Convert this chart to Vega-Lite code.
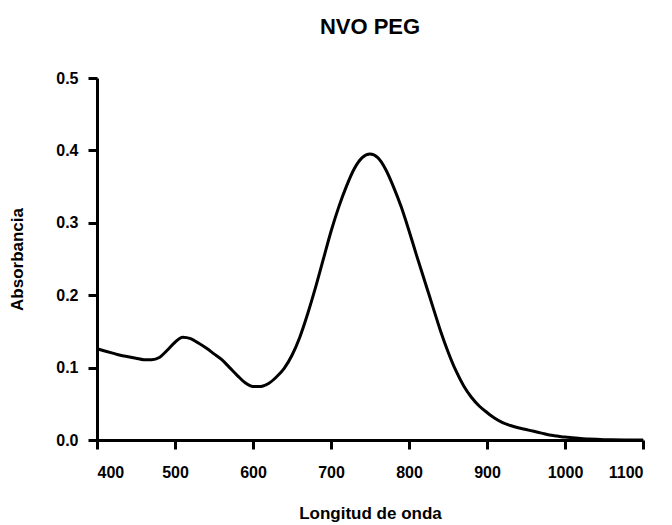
{
  "$schema": "https://vega.github.io/schema/vega-lite/v6.json",
  "width": 546,
  "height": 362,
  "autosize": "none",
  "padding": {"left": 97, "top": 78, "right": 29, "bottom": 85},
  "background": "white",
  "title": {
    "text": "NVO PEG",
    "font": "Liberation Sans",
    "fontSize": 22,
    "fontWeight": "bold",
    "color": "black",
    "anchor": "middle",
    "offset": 31
  },
  "data": {
    "values": [
      {"wl": 400, "abs": 0.126},
      {"wl": 410, "abs": 0.123},
      {"wl": 420, "abs": 0.120},
      {"wl": 430, "abs": 0.117},
      {"wl": 440, "abs": 0.115},
      {"wl": 450, "abs": 0.113},
      {"wl": 460, "abs": 0.111},
      {"wl": 470, "abs": 0.111},
      {"wl": 480, "abs": 0.114},
      {"wl": 490, "abs": 0.124},
      {"wl": 500, "abs": 0.135},
      {"wl": 510, "abs": 0.142},
      {"wl": 520, "abs": 0.140},
      {"wl": 530, "abs": 0.134},
      {"wl": 540, "abs": 0.127},
      {"wl": 550, "abs": 0.119},
      {"wl": 560, "abs": 0.111},
      {"wl": 570, "abs": 0.100},
      {"wl": 580, "abs": 0.089},
      {"wl": 590, "abs": 0.079},
      {"wl": 600, "abs": 0.074},
      {"wl": 610, "abs": 0.074},
      {"wl": 620, "abs": 0.078},
      {"wl": 630, "abs": 0.087},
      {"wl": 640, "abs": 0.099},
      {"wl": 650, "abs": 0.117},
      {"wl": 660, "abs": 0.142},
      {"wl": 670, "abs": 0.174},
      {"wl": 680, "abs": 0.210},
      {"wl": 690, "abs": 0.249},
      {"wl": 700, "abs": 0.288},
      {"wl": 710, "abs": 0.322},
      {"wl": 720, "abs": 0.351},
      {"wl": 730, "abs": 0.375},
      {"wl": 740, "abs": 0.390},
      {"wl": 750, "abs": 0.395},
      {"wl": 760, "abs": 0.390},
      {"wl": 770, "abs": 0.374},
      {"wl": 780, "abs": 0.350},
      {"wl": 790, "abs": 0.322},
      {"wl": 800, "abs": 0.289},
      {"wl": 810, "abs": 0.254},
      {"wl": 820, "abs": 0.220},
      {"wl": 830, "abs": 0.186},
      {"wl": 840, "abs": 0.152},
      {"wl": 850, "abs": 0.122},
      {"wl": 860, "abs": 0.096},
      {"wl": 870, "abs": 0.075},
      {"wl": 880, "abs": 0.059},
      {"wl": 890, "abs": 0.047},
      {"wl": 900, "abs": 0.038},
      {"wl": 910, "abs": 0.030},
      {"wl": 920, "abs": 0.024},
      {"wl": 930, "abs": 0.020},
      {"wl": 940, "abs": 0.017},
      {"wl": 950, "abs": 0.0145},
      {"wl": 960, "abs": 0.012},
      {"wl": 970, "abs": 0.0095},
      {"wl": 980, "abs": 0.007},
      {"wl": 990, "abs": 0.0055},
      {"wl": 1000, "abs": 0.004},
      {"wl": 1010, "abs": 0.003},
      {"wl": 1020, "abs": 0.002},
      {"wl": 1030, "abs": 0.0014},
      {"wl": 1040, "abs": 0.0009},
      {"wl": 1050, "abs": 0.0005},
      {"wl": 1060, "abs": 0.0003},
      {"wl": 1080, "abs": 0.0001},
      {"wl": 1100, "abs": 0.0}
    ]
  },
  "mark": {"type": "line", "color": "black", "strokeWidth": 3, "interpolate": "monotone"},
  "encoding": {
    "x": {
      "field": "wl",
      "type": "quantitative",
      "scale": {"domain": [400, 1100], "nice": false, "zero": false},
      "axis": {"values": [400, 500, 600, 700, 800, 900, 1000, 1100], "format": "d", "title": "Longitud de onda", "labelPadding": 15, "titlePadding": 25}
    },
    "y": {
      "field": "abs",
      "type": "quantitative",
      "scale": {"domain": [0, 0.5], "nice": false},
      "axis": {"values": [0, 0.1, 0.2, 0.3, 0.4, 0.5], "format": ".1f", "title": "Absorbancia", "labelPadding": 10, "titlePadding": 29}
    }
  },
  "config": {
    "view": {"stroke": null},
    "axis": {
      "grid": false,
      "domainColor": "black",
      "domainWidth": 3,
      "tickColor": "black",
      "tickWidth": 3,
      "tickSize": 9,
      "labelFont": "Liberation Sans",
      "labelFontSize": 16,
      "labelFontWeight": "bold",
      "labelColor": "black",
      "titleFont": "Liberation Sans",
      "titleFontSize": 17,
      "titleFontWeight": "bold",
      "titleColor": "black"
    }
  }
}
